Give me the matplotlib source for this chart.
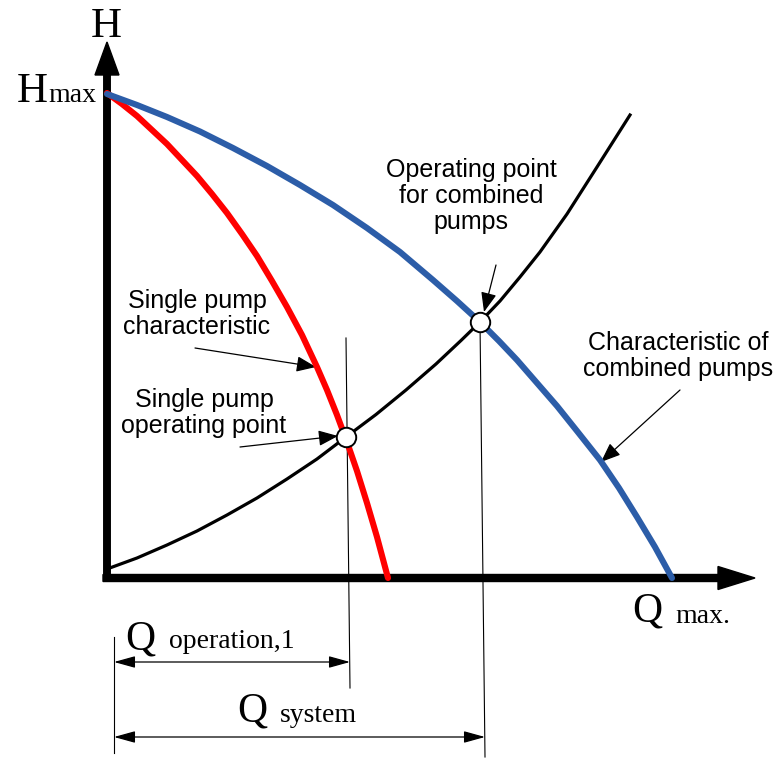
import matplotlib
matplotlib.use("Agg")
import matplotlib.pyplot as plt
from matplotlib.patches import FancyArrow

# кривые (Q, H), в условных единицах
q_single = [0, 1.5, 3, 4.5, 6, 7.5, 9, 10.5, 12, 13.5, 15, 16.5, 18, 19.5, 21, 22, 23, 24, 25, 26, 27, 28.1]
h_single = [48.5, 47.4, 46.2, 44.8, 43.4, 41.8, 40.2, 38.4, 36.5, 34.4, 32.2, 29.7, 27.1, 24.3, 21.1,
            18.8, 16.3, 13.6, 10.7, 7.5, 4.1, 0]

q_comb = [0, 3, 6, 9.3, 12.6, 16, 19.3, 22.6, 26, 29.3, 32.6, 35, 37.3, 39.2, 41, 43, 45, 47, 49.3,
          51.2, 53, 54.8, 56.5]
h_comb = [48.4, 47.3, 46.1, 44.65, 43.0, 41.2, 39.3, 37.3, 35.0, 32.6, 29.8, 27.7, 25.6, 23.7, 21.8,
          19.5, 17.2, 14.7, 11.8, 9.0, 6.1, 3.1, 0]

q_sys = [0, 3, 6, 9, 12, 15, 18, 21, 23.9, 26.9, 29.9, 32.9, 35.4, 37.3, 39.3, 41.3, 43.3, 46, 49, 52.3]
h_sys = [0.9, 2.0, 3.3, 4.7, 6.3, 8.0, 9.9, 11.9, 14.1, 16.35, 18.8, 21.4, 23.75, 25.6, 27.7, 30.1,
         32.6, 36.4, 41.1, 46.3]

# рабочие точки
op_single = (23.9, 14.1)
op_comb = (37.3, 25.6)

RED = "#ff0000"
BLUE = "#2c5da8"
SERIF = "Liberation Serif"
SANS = "Liberation Sans"

fig = plt.figure(figsize=(7.81, 7.59), dpi=100)
ax = fig.add_axes([0, 0, 1, 1])
ax.set_xlim(-10.7, 67.4)
ax.set_ylim(-18.1, 57.8)
ax.axis("off")

# оси со стрелками
ax.add_patch(FancyArrow(0, -0.3, 0, 53.9, width=0.65, head_width=2.4, head_length=3.3,
                        length_includes_head=True, color="black", zorder=2))
ax.add_patch(FancyArrow(-0.4, 0, 65.2, 0, width=0.7, head_width=2.3, head_length=3.7,
                        length_includes_head=True, color="black", zorder=2))

# характеристики
ax.plot(q_single, h_single, color=RED, lw=4.4, solid_capstyle="round", solid_joinstyle="round", zorder=4)
ax.plot(q_comb, h_comb, color=BLUE, lw=4.4, solid_capstyle="round", solid_joinstyle="round", zorder=4)
ax.plot(q_sys, h_sys, color="black", lw=2.3, solid_joinstyle="round", zorder=5)

# выносные линии
ax.plot([op_single[0], op_single[0] + 0.4], [24.0, -11.0], color="black", lw=0.8, zorder=3)
ax.plot([op_comb[0], op_comb[0] + 0.5], [op_comb[1], -17.9], color="black", lw=0.8, zorder=3)
ax.plot([0.7, 0.7], [-5.9, -17.5], color="black", lw=0.8)

# рабочие точки
ax.plot([op_single[0], op_comb[0]], [op_single[1], op_comb[1]], "o", ms=14, mfc="white",
        mec="black", mew=1.4, zorder=6)

# размерные стрелки
dim = dict(arrowstyle="<|-|>,head_length=0.65,head_width=0.18", color="black", lw=0.9,
           shrinkA=0, shrinkB=0, mutation_scale=20)
ax.annotate("", xy=(op_single[0] + 0.4, -8.4), xytext=(0.7, -8.4), arrowprops=dim)
ax.annotate("", xy=(op_comb[0] + 0.5, -15.9), xytext=(0.7, -15.9), arrowprops=dim)

# подписи осей
ax.text(-0.1, 54.1, "H", fontsize=31, family=SERIF, ha="center", va="baseline")
ax.text(-5.9, 47.6, "H", fontsize=31, family=SERIF, ha="right", va="baseline")
ax.text(-5.9, 47.6, "max", fontsize=20, family=SERIF, ha="left", va="baseline")
ax.text(52.5, -4.4, "Q", fontsize=30, family=SERIF, ha="left", va="baseline")
ax.text(56.8, -4.5, "max.", fontsize=20, family=SERIF, ha="left", va="baseline")
ax.text(1.8, -7.2, "Q", fontsize=30, family=SERIF, ha="left", va="baseline")
ax.text(6.2, -7.0, "operation,1", fontsize=20, family=SERIF, ha="left", va="baseline")
ax.text(13.0, -14.4, "Q", fontsize=30, family=SERIF, ha="left", va="baseline")
ax.text(17.3, -14.4, "system", fontsize=20, family=SERIF, ha="left", va="baseline")

# выноски
arr = dict(arrowstyle="-|>,head_length=0.6,head_width=0.24", color="black", lw=0.9,
           shrinkA=0, shrinkB=0, mutation_scale=20)
lbl = dict(fontsize=18, family=SANS, ha="center", va="center", linespacing=1.1)

ax.text(9.0, 26.4, "Single pump\ncharacteristic", **lbl)
ax.annotate("", xy=(20.9, 21.1), xytext=(8.8, 23.0), arrowprops=arr)

ax.text(9.7, 16.5, "Single pump\noperating point", **lbl)
ax.annotate("", xy=(23.1, 14.2), xytext=(13.3, 13.1), arrowprops=arr)

ax.text(36.4, 38.2, "Operating point\nfor combined\npumps", **lbl)
ax.annotate("", xy=(37.7, 26.6), xytext=(38.9, 31.3), arrowprops=arr)

ax.text(57.1, 22.2, "Characteristic of\ncombined pumps", **lbl)
ax.annotate("", xy=(49.4, 11.6), xytext=(57.3, 18.8), arrowprops=arr)

plt.savefig("out.png", dpi=100)
plt.close(fig)
